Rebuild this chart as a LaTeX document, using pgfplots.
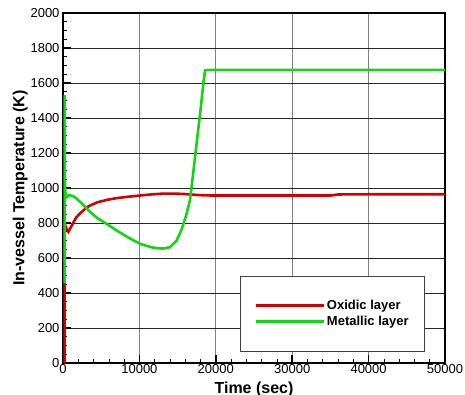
\documentclass[border=0pt]{standalone}
\usepackage{pgfplots}
\pgfplotsset{compat=1.18}
\usepackage{fontspec}
\setmainfont{Liberation Sans}
\definecolor{myred}{RGB}{212,0,0}
\definecolor{mygreen}{RGB}{20,212,20}
\begin{document}
\begin{tikzpicture}
\path[use as bounding box] (-63pt,-32pt) rectangle (402pt,363pt);
\begin{axis}[
  at={(0pt,0pt)}, anchor=south west,
  scale only axis, width=382pt, height=350pt,
  xmin=0, xmax=50000, ymin=0, ymax=2000,
  xtick={0,10000,20000,30000,40000,50000},
  ytick={0,200,...,2000},
  minor x tick num=4, minor y tick num=3,
  xtick pos=left, ytick pos=left,
  scaled x ticks=false,
  xticklabel style={/pgf/number format/1000 sep={}, yshift=2pt},
  yticklabel style={/pgf/number format/1000 sep={}},
  /pgf/number format/assume math mode=true,
  tick label style={font=\fontsize{13}{15}\selectfont},
  tick align=inside,
  major tick length=8pt, minor tick length=4pt,
  every major tick/.style={line width=1.6pt, black},
  every minor tick/.style={line width=0.6pt, black},
  axis line style={line width=1.6pt},
  xmajorgrids, ymajorgrids,
  x grid style={gray, line width=0.7pt},
  y grid style={black!85, line width=0.7pt},
  xlabel={\bfseries Time (sec)},
  ylabel={\bfseries In-vessel Temperature (K)},
  label style={font=\fontsize{16}{18}\selectfont\bfseries},
  xlabel style={at={(axis description cs:0.5,0)}, anchor=north, yshift=-15pt},
  ylabel style={yshift=-4pt},
  legend style={at={(0.463,0.249)}, anchor=north west, draw=black!75, line width=0.6pt,
    font=\fontsize{13}{16}\selectfont\bfseries, cells={anchor=west},
    inner xsep=14pt, inner ysep=22pt, row sep=1pt},
  legend image code/.code={\draw[#1, line width=3pt] (0pt,0pt) -- (60pt,0pt); \path (0pt,0pt) -- (68pt,0pt);},
]
\addplot[myred, line width=2.6pt] coordinates {
(220,0) (220,400) (220,805) (350,775) (700,750) (1200,790) (1700,830)
(2230,855) (3000,885) (3530,900) (4500,918) (5720,932) (7000,942) (8500,950)
(10080,957) (11500,963) (13130,968) (14500,968) (15750,966) (17000,962)
(18000,959) (19500,957) (25000,957) (30000,957) (35000,957) (36000,963)
(40000,964) (50000,964)};
\addlegendentry{Oxidic layer}
\addplot[mygreen, line width=2.6pt] coordinates {
(220,455) (220,800) (220,1530) (260,1000) (400,945) (800,960) (1500,950)
(2500,910) (3500,865) (4500,828) (5720,795) (7000,758) (8500,718) (10080,681)
(11500,662) (12500,655) (13130,654) (14000,662) (14880,700) (15500,760)
(16100,840) (16620,931) (17000,1070) (17500,1260) (18000,1445) (18400,1610)
(18600,1672) (19000,1675) (50000,1675)};
\addlegendentry{Metallic layer}
\end{axis}
\end{tikzpicture}
\end{document}
